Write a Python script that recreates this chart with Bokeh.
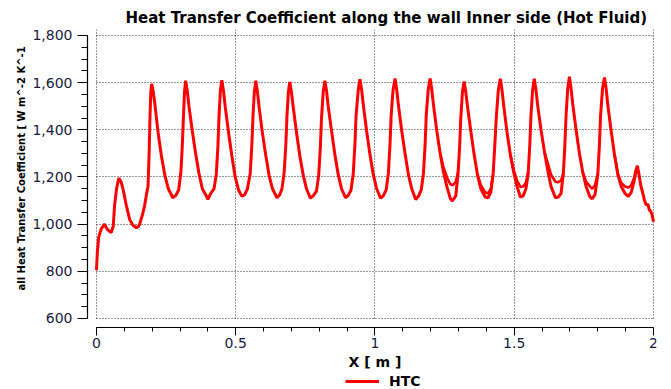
from bokeh.plotting import figure
from bokeh.models import (Range1d, SingleIntervalTicker, NumeralTickFormatter,
                          Legend, LegendItem, Title)
from bokeh.embed import file_html
from bokeh.resources import INLINE

# ---- data (forward trace, X in m, HTC in W m^-2 K^-1)
x_fwd = [0.000, 0.003, 0.008, 0.017, 0.029, 0.035, 0.041, 0.053, 0.060, 0.065,
         0.072, 0.080, 0.088, 0.095, 0.107, 0.119, 0.131, 0.143, 0.150, 0.155,
         0.165, 0.173, 0.180, 0.185, 0.189, 0.192, 0.195, 0.198,
         0.204, 0.210, 0.221, 0.233, 0.245, 0.258, 0.274, 0.285, 0.295, 0.303, 0.308, 0.312, 0.316, 0.320,
         0.326, 0.332, 0.344, 0.356, 0.368, 0.380, 0.392, 0.400, 0.410, 0.422, 0.430, 0.436, 0.440, 0.445, 0.450,
         0.456, 0.462, 0.474, 0.486, 0.498, 0.510, 0.522, 0.532, 0.542, 0.552, 0.558, 0.562, 0.567, 0.572,
         0.578, 0.584, 0.596, 0.608, 0.620, 0.632, 0.648, 0.658, 0.666, 0.674, 0.680, 0.684, 0.689, 0.694,
         0.700, 0.706, 0.718, 0.730, 0.742, 0.754, 0.768, 0.778, 0.790, 0.798, 0.804, 0.808, 0.814, 0.820,
         0.826, 0.832, 0.844, 0.856, 0.868, 0.880, 0.894, 0.904, 0.914, 0.922, 0.928, 0.932, 0.940, 0.946,
         0.952, 0.958, 0.970, 0.982, 0.994, 1.006, 1.020, 1.030, 1.040, 1.048, 1.054, 1.058, 1.065, 1.072,
         1.078, 1.084, 1.096, 1.108, 1.120, 1.132, 1.146, 1.156, 1.166, 1.174, 1.180, 1.184, 1.191, 1.198,
         1.204, 1.210, 1.222, 1.234, 1.246, 1.258, 1.270, 1.278, 1.290, 1.298, 1.304, 1.308, 1.314, 1.320,
         1.326, 1.332, 1.344, 1.356, 1.368, 1.380, 1.396, 1.406, 1.416, 1.424, 1.430, 1.436, 1.443, 1.450,
         1.456, 1.462, 1.474, 1.486, 1.498, 1.510, 1.522, 1.532, 1.542, 1.550, 1.556, 1.560, 1.566, 1.572,
         1.578, 1.584, 1.596, 1.608, 1.620, 1.632, 1.648, 1.658, 1.668, 1.676, 1.682, 1.686, 1.692, 1.698,
         1.704, 1.710, 1.722, 1.734, 1.746, 1.758, 1.772, 1.780, 1.790, 1.800, 1.806, 1.810, 1.817, 1.824,
         1.830, 1.836, 1.848, 1.860, 1.872, 1.884, 1.898, 1.910, 1.920, 1.930, 1.938, 1.942, 1.948, 1.955,
         1.962, 1.968, 1.974, 1.980, 1.985, 1.990, 1.995, 2.000]
htc_fwd = [805, 880, 945, 980, 1000, 985, 975, 965, 990, 1080,
           1150, 1195, 1180, 1150, 1080, 1020, 995, 985, 990, 1000,
           1040, 1080, 1130, 1160, 1300, 1450, 1560, 1595,
           1560, 1505, 1390, 1290, 1210, 1150, 1112, 1122, 1145, 1220, 1330, 1450, 1560, 1608,
           1565, 1500, 1395, 1300, 1215, 1150, 1125, 1105, 1130, 1150, 1210, 1330, 1460, 1570, 1610,
           1565, 1500, 1390, 1290, 1200, 1145, 1118, 1125, 1150, 1215, 1340, 1460, 1565, 1608,
           1560, 1495, 1385, 1290, 1205, 1150, 1112, 1125, 1150, 1220, 1340, 1460, 1560, 1603,
           1560, 1500, 1390, 1290, 1210, 1150, 1110, 1120, 1140, 1210, 1330, 1450, 1560, 1608,
           1565, 1500, 1395, 1295, 1210, 1150, 1112, 1122, 1145, 1215, 1340, 1460, 1570, 1615,
           1570, 1505, 1395, 1295, 1210, 1150, 1110, 1120, 1145, 1215, 1340, 1460, 1570, 1618,
           1570, 1505, 1395, 1300, 1210, 1150, 1105, 1118, 1145, 1215, 1340, 1460, 1570, 1618,
           1570, 1505, 1395, 1300, 1220, 1160, 1110, 1098, 1120, 1210, 1330, 1450, 1560, 1605,
           1560, 1500, 1395, 1295, 1210, 1150, 1115, 1112, 1135, 1210, 1330, 1460, 1570, 1617,
           1570, 1505, 1390, 1295, 1220, 1160, 1115, 1120, 1150, 1215, 1340, 1460, 1570, 1617,
           1570, 1505, 1400, 1310, 1230, 1160, 1112, 1115, 1130, 1210, 1340, 1460, 1575, 1625,
           1575, 1510, 1400, 1300, 1220, 1160, 1115, 1108, 1125, 1210, 1340, 1460, 1575, 1622,
           1575, 1505, 1395, 1295, 1210, 1160, 1130, 1118, 1135, 1180, 1230, 1248, 1210, 1160,
           1130, 1100, 1080, 1085, 1060, 1055, 1040, 1010]

# ---- second (return) trace where it separates from the first one
x_ret = [1.234, 1.246, 1.258, 1.270, 1.280, 1.290, 1.298,
         1.368, 1.380, 1.396, 1.406, 1.416, 1.424,
         1.486, 1.498, 1.510, 1.522, 1.532, 1.542, 1.550,
         1.608, 1.620, 1.632, 1.648, 1.658, 1.668, 1.676,
         1.746, 1.758, 1.772, 1.780, 1.790, 1.800,
         1.860, 1.872, 1.884, 1.898, 1.910, 1.920, 1.930, 1.938]
htc_ret = [1300, 1240, 1200, 1170, 1165, 1180, 1220,
           1210, 1165, 1135, 1130, 1150, 1210,
           1295, 1230, 1185, 1158, 1160, 1175, 1220,
           1310, 1260, 1210, 1180, 1178, 1185, 1215,
           1220, 1180, 1160, 1150, 1165, 1215,
           1295, 1215, 1175, 1160, 1155, 1165, 1195, 1235]
# group the return trace into its separate loops
ret_groups = [(0, 7), (7, 13), (13, 20), (20, 27), (27, 33), (33, 41)]

TITLE = "Heat Transfer Coefficient along the wall Inner side (Hot Fluid)"
Y_LABEL = "all Heat Transfer Coefficient [ W m^-2 K^-1"
X_LABEL = "X [ m ]"
SERIES = "HTC"

FONT = "DejaVu Sans"
TICK_COLOR = "#1a1a40"

p = figure(width=671, height=389, output_backend="svg", toolbar_location=None,
           x_range=Range1d(-0.0323, 2.0108), y_range=Range1d(298.9, 1825.4),
           min_border_left=87, min_border_right=15, min_border_top=29,
           min_border_bottom=0, background_fill_color="white",
           border_fill_color="white", outline_line_color=None)

p.title.text = TITLE
p.title.text_font = FONT
p.title.text_font_size = "15px"
p.title.text_font_style = "bold"
p.title.text_color = "black"
p.title.align = "left"
p.title.offset = 38
p.title.standoff = 6

line = p.line(x_fwd, htc_fwd, line_color="#ff0000", line_width=3)
for a, b in ret_groups:
    p.line(x_ret[a:b], htc_ret[a:b], line_color="#ff0000", line_width=2.6)

# axes
xa = p.xaxis[0]
xa.ticker = SingleIntervalTicker(interval=0.5, num_minor_ticks=5)
xa.formatter = NumeralTickFormatter(format="0.[0]")
xa.bounds = (0, 2)
xa.fixed_location = 561.8
ya = p.yaxis[0]
ya.ticker = SingleIntervalTicker(interval=200, num_minor_ticks=4)
ya.formatter = NumeralTickFormatter(format="0,0")
ya.bounds = (600, 1800)

for ax in (xa, ya):
    ax.axis_line_color = "black"
    ax.axis_line_width = 1.2
    ax.major_tick_line_color = "black"
    ax.minor_tick_line_color = "black"
    ax.major_tick_in = 0
    ax.minor_tick_in = 0
    ax.major_label_text_font = FONT
    ax.major_label_text_font_size = "14px"
    ax.major_label_text_color = TICK_COLOR
    ax.axis_label_text_font = FONT
    ax.axis_label_text_font_style = "bold"
    ax.axis_label_text_color = "black"

xa.major_tick_out = 8
xa.minor_tick_out = 4
ya.major_tick_out = 10
ya.minor_tick_out = 6
xa.axis_label = X_LABEL
xa.axis_label_text_font_size = "14px"
xa.axis_label_standoff = 2
xa.major_label_standoff = 3
ya.major_label_standoff = 5

# y-axis label as a side title so that its position can be set
ytitle = Title(text=Y_LABEL, text_font=FONT, text_font_style="bold",
               text_font_size="10px", text_color="black", align="left",
               offset=99, standoff=6)
p.add_layout(ytitle, "left")

for g in (p.xgrid[0], p.ygrid[0]):
    g.grid_line_color = "#303030"
    g.grid_line_dash = "1 2"
    g.grid_line_width = 1
try:
    p.xgrid[0].cross_bounds = (600, 1825)
    p.ygrid[0].cross_bounds = (0, 2)
except Exception:
    pass

legend = Legend(items=[LegendItem(label=SERIES, renderers=[line])],
                orientation="horizontal", location=(258, 0),
                border_line_color=None, background_fill_alpha=0,
                label_text_font=FONT, label_text_font_style="bold",
                label_text_font_size="14px", label_text_color="black",
                glyph_width=34, glyph_height=12,
                label_height=14, label_standoff=10, padding=2, margin=0)
p.add_layout(legend, "center")

open("out.html", "w").write(file_html(p, INLINE))
